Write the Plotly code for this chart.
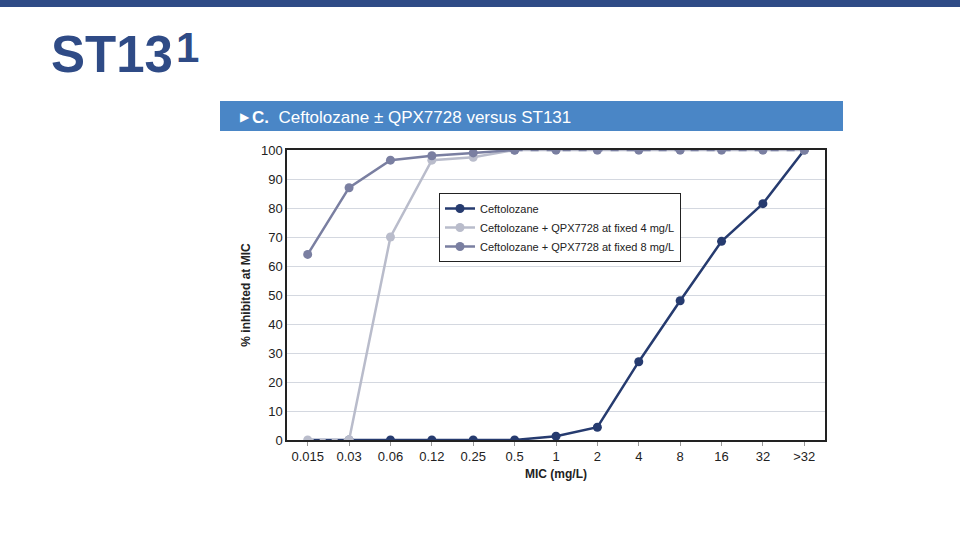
import plotly.graph_objects as go

mic_labels = ["0.015", "0.03", "0.06", "0.12", "0.25", "0.5", "1", "2", "4", "8", "16", "32", ">32"]
ceftolozane = [0, 0, 0, 0, 0, 0, 1.3, 4.4, 27, 48, 68.5, 81.5, 100]
cef_qpx_4 = [0, 0, 70, 96.5, 97.5, 100, 100, 100, 100, 100, 100, 100, 100]
cef_qpx_8 = [64, 87, 96.5, 98, 99, 100, 100, 100, 100, 100, 100, 100, 100]
series_names = ["Ceftolozane",
                "Ceftolozane + QPX7728 at fixed 4 mg/L",
                "Ceftolozane + QPX7728 at fixed 8 mg/L"]

c_dark = "#263b6f"
c_light = "#b9bccb"
c_mid = "#7a7fa1"

L, R, T, B = 287, 135, 150, 100
W, H = 960, 540
pw, ph = W - L - R, H - T - B


def px(x):
    return (x - L) / pw


def py(y):
    return (H - B - y) / ph


fig = go.Figure()

fig.add_trace(go.Scatter(x=mic_labels[1:], y=ceftolozane[1:], mode="lines+markers",
                         name=series_names[0], line=dict(color=c_dark, width=2.5),
                         marker=dict(color=c_dark, size=9)))
fig.add_trace(go.Scatter(x=mic_labels[:2], y=ceftolozane[:2], mode="lines",
                         line=dict(color=c_dark, width=2.5), showlegend=False, hoverinfo="skip"))
fig.add_trace(go.Scatter(x=mic_labels[:2], y=cef_qpx_4[:2], mode="lines+markers",
                         line=dict(color=c_light, width=2.5, dash="6px,6px"),
                         marker=dict(color=c_light, size=9), showlegend=False, hoverinfo="skip"))
fig.add_trace(go.Scatter(x=mic_labels[1:], y=cef_qpx_4[1:], mode="lines+markers",
                         name=series_names[1], line=dict(color=c_light, width=2.5),
                         marker=dict(color=c_light, size=9)))
fig.add_trace(go.Scatter(x=mic_labels[:6], y=cef_qpx_8[:6], mode="lines+markers",
                         name=series_names[2], line=dict(color=c_mid, width=2.5),
                         marker=dict(color=c_mid, size=9)))
fig.add_trace(go.Scatter(x=mic_labels[5:], y=cef_qpx_8[5:], mode="lines+markers",
                         line=dict(color=c_mid, width=2.5, dash="8px,8px"),
                         marker=dict(color=c_mid, size=9), showlegend=False, hoverinfo="skip"))

font_main = "Liberation Sans, Arial, sans-serif"

shapes = [
    dict(type="rect", xref="paper", yref="paper", x0=px(0), x1=px(W), y0=py(7), y1=py(0),
         fillcolor="#2f4b86", line=dict(width=0), layer="above"),
    dict(type="rect", xref="paper", yref="paper", x0=px(220), x1=px(843), y0=py(131), y1=py(101),
         fillcolor="#4a86c6", line=dict(width=0), layer="above"),
]

annotations = [
    dict(text="<b>ST13</b>", xref="paper", yref="paper", x=px(49), y=py(54),
         xanchor="left", yanchor="middle", showarrow=False,
         font=dict(family=font_main, size=51, color="#2f4b86")),
    dict(text="<b>1</b>", xref="paper", yref="paper", x=px(174), y=py(47),
         xanchor="left", yanchor="middle", showarrow=False,
         font=dict(family=font_main, size=42, color="#2f4b86")),
    dict(text="▶", xref="paper", yref="paper",
         x=px(238), y=py(117), xanchor="left", yanchor="middle", showarrow=False,
         font=dict(family="DejaVu Sans, sans-serif", size=12, color="white")),
    dict(text="<b>C.</b>  Ceftolozane ± QPX7728 versus ST131", xref="paper", yref="paper",
         x=px(250), y=py(117), xanchor="left", yanchor="middle", showarrow=False,
         font=dict(family=font_main, size=17, color="white")),
]

fig.update_layout(
    width=W, height=H,
    margin=dict(l=L, r=R, t=T, b=B),
    paper_bgcolor="white", plot_bgcolor="white",
    shapes=shapes, annotations=annotations,
    font=dict(family=font_main, size=13, color="#222222"),
    legend=dict(x=px(439), y=py(193), xanchor="left", yanchor="top",
                bordercolor="#222222", borderwidth=1, bgcolor="white",
                font=dict(family=font_main, size=11, color="#222222"),
                itemwidth=30, tracegroupgap=0),
    showlegend=True,
)

fig.update_xaxes(type="category", categoryorder="array", categoryarray=mic_labels,
                 range=[-0.5, 12.5], showgrid=False, showline=True, linecolor="#222222",
                 linewidth=1.5, mirror=True, ticks="outside", ticklen=4, tickcolor="#999999",
                 tickfont=dict(size=13, color="#222222"),
                 title=dict(text="<b>MIC (mg/L)</b>", font=dict(size=12, color="#222222"), standoff=6))
fig.update_yaxes(range=[0, 100], dtick=10, showgrid=True, gridcolor="#d4d8e0", gridwidth=1,
                 showline=True, linecolor="#222222", linewidth=1.5, mirror=True, zeroline=False,
                 ticks="", tickfont=dict(size=13, color="#222222"),
                 title=dict(text="<b>% inhibited at MIC</b>", font=dict(size=12, color="#222222"), standoff=8))

fig.write_html("out.html", config={"displayModeBar": False},
               post_script="document.body.style.margin='0';")
